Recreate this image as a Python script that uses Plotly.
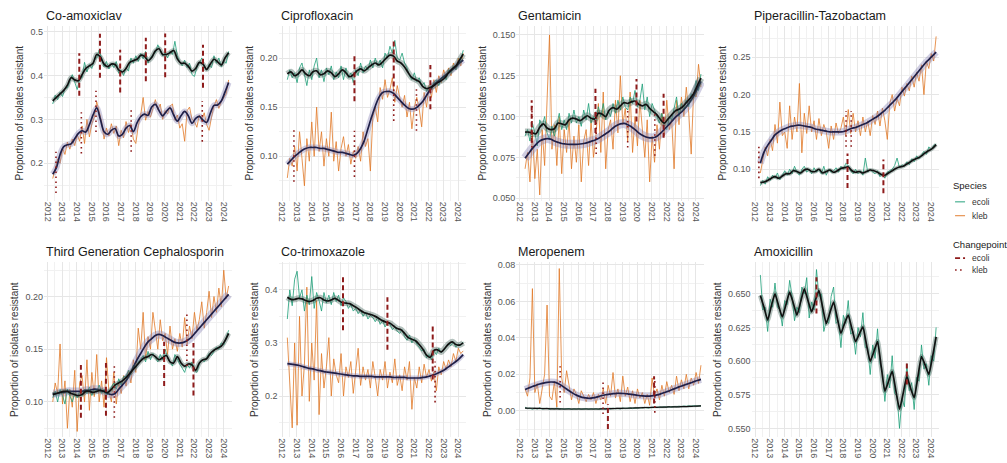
import numpy as np
import plotly.graph_objects as go

# ---------------------------------------------------------------------------
# Time axes (decimal years): observations every two months, fitted trend quarterly
# ---------------------------------------------------------------------------
obs_time = np.round(2012.35 + np.arange(73) / 6, 3)
fit_time = np.round(2012.35 + np.arange(49) / 4, 3)
year_ticks = list(range(2012, 2025))

# ---------------------------------------------------------------------------
# Co-amoxiclav
# ---------------------------------------------------------------------------
coamox_ecoli_obs = [
    .335, .355, .345, .362, .352, .370,
    .372, .388, .402, .385, .368, .392,
    .395, .430, .408, .425, .416, .435,
    .440, .458, .438, .420, .432, .415,
    .428, .418, .432, .405, .412, .400,
    .418, .410, .440, .428, .445, .432,
    .450, .438, .455, .428, .440, .448,
    .452, .470, .458, .445, .452, .440,
    .455, .448, .478, .445, .430, .422,
    .435, .418, .428, .402, .398, .418,
    .428, .440, .420, .412, .425, .418,
    .445, .428, .440, .420, .432, .428,
    .455]
coamox_kleb_obs = [
    .165, .185, .210, .200, .235, .220,
    .248, .232, .255, .240, .265, .250,
    .285, .245, .300, .260, .290, .305,
    .340, .318, .295, .255, .280, .262,
    .290, .268, .285, .240, .275, .258,
    .295, .270, .290, .255, .245, .285,
    .310, .350, .298, .318, .305, .325,
    .345, .322, .335, .300, .320, .312,
    .330, .335, .298, .310, .280, .290,
    .250, .320, .328, .300, .295, .282,
    .310, .298, .315, .288, .275, .305,
    .330, .345, .325, .340, .350, .358,
    .390]
coamox_ecoli_fit = [
    .342, .350, .358, .366, .378, .395, .390, .388,
    .402, .416, .422, .428, .448, .442, .426, .420,
    .426, .425, .413, .408, .416, .430, .434, .437,
    .446, .444, .434, .441, .456, .461, .448, .448,
    .452, .457, .438, .428, .428, .421, .410, .416,
    .430, .426, .414, .426, .437, .431, .424, .440,
    .452]
coamox_kleb_fit = [
    .175, .190, .220, .238, .242, .244, .256, .268,
    .274, .271, .288, .310, .326, .300, .272, .266,
    .275, .279, .262, .266, .280, .286, .272, .292,
    .306, .312, .309, .328, .334, .320, .308, .318,
    .326, .310, .296, .308, .318, .308, .291, .302,
    .307, .298, .293, .314, .332, .333, .342, .362,
    .384]
# changepoints: [year, lower end, upper end]
coamox_cp_ecoli = [[2014.16, .354, .451], [2015.57, .395, .495], [2016.95, .361, .459],
                   [2018.70, .387, .486], [2020.02, .396, .496], [2022.60, .372, .470]]
coamox_cp_kleb = [[2012.57, .132, .226], [2014.30, .222, .316], [2015.30, .271, .365],
                  [2017.70, .226, .324], [2022.55, .249, .342]]

# ---------------------------------------------------------------------------
# Ciprofloxacin
# ---------------------------------------------------------------------------
cipro_ecoli_obs = [
    .178, .188, .180, .185, .175, .190,
    .195, .182, .172, .188, .178, .192,
    .200, .180, .188, .176, .190, .183,
    .192, .178, .186, .180, .192, .178,
    .190, .180, .185, .175, .188, .182,
    .195, .185, .192, .188, .198, .190,
    .200, .192, .198, .190, .205, .200,
    .212, .205, .218, .200, .198, .205,
    .195, .190, .182, .178, .185, .176,
    .180, .172, .175, .166, .170, .168,
    .175, .178, .172, .180, .182, .178,
    .188, .185, .192, .188, .195, .198,
    .208]
cipro_kleb_obs = [
    .078, .098, .090, .110, .085, .125,
    .098, .070, .118, .095, .135, .100,
    .150, .105, .125, .090, .118, .100,
    .145, .095, .115, .085, .108, .120,
    .100, .112, .092, .105, .098, .110,
    .095, .125, .110, .118, .085, .140,
    .150, .135, .170, .158, .178, .160,
    .168, .180, .155, .172, .160, .150,
    .162, .140, .155, .128, .150, .160,
    .148, .130, .165, .150, .172, .160,
    .178, .165, .182, .175, .188, .180,
    .190, .182, .195, .188, .200, .192,
    .205]
cipro_ecoli_fit = [
    .184, .186, .182, .184, .188, .184, .182, .186,
    .187, .183, .184, .187, .185, .181, .184, .188,
    .185, .181, .183, .187, .189, .187, .190, .193,
    .195, .193, .196, .200, .203, .202, .197, .195,
    .191, .185, .180, .178, .176, .171, .169, .170,
    .172, .175, .177, .180, .185, .189, .192, .198,
    .204]
cipro_kleb_fit = [
    .092, .096, .100, .103, .106, .108, .109, .109,
    .109, .108, .108, .107, .106, .105, .104, .104,
    .103, .102, .101, .103, .108, .116, .128, .140,
    .151, .160, .165, .166, .166, .164, .160, .156,
    .152, .149, .148, .149, .152, .156, .162, .168,
    .173, .176, .179, .182, .185, .188, .191, .195,
    .198]
cipro_cp_ecoli = [[2016.93, .156, .205], [2019.61, .171, .220], [2022.11, .148, .193]]
cipro_cp_kleb = [[2012.80, .074, .128], [2016.93, .079, .126], [2019.61, .136, .170],
                 [2021.16, .126, .171]]

# ---------------------------------------------------------------------------
# Gentamicin
# ---------------------------------------------------------------------------
genta_ecoli_obs = [
    .088, .092, .085, .096, .090, .082,
    .098, .094, .100, .090, .086, .094,
    .088, .096, .102, .092, .098, .092,
    .102, .096, .104, .096, .100, .094,
    .104, .098, .108, .096, .100, .096,
    .106, .100, .108, .098, .104, .100,
    .108, .102, .110, .104, .112, .106,
    .104, .112, .108, .116, .106, .110,
    .120, .104, .112, .100, .108, .104,
    .100, .096, .102, .094, .092, .100,
    .098, .106, .112, .100, .108, .104,
    .110, .106, .114, .112, .122, .116,
    .126]
genta_kleb_obs = [
    .068, .078, .060, .090, .062, .080,
    .052, .092, .070, .105, .150, .080,
    .095, .070, .100, .065, .092, .078,
    .098, .068, .088, .072, .095, .060,
    .085, .092, .070, .098, .075, .088,
    .108, .078, .115, .068, .092, .098,
    .080, .110, .090, .125, .095, .105,
    .085, .115, .078, .100, .082, .110,
    .092, .075, .098, .060, .088, .072,
    .095, .080, .102, .088, .110, .092,
    .098, .068, .110, .095, .112, .100,
    .118, .102, .077, .115, .112, .132,
    .118]
genta_ecoli_fit = [
    .0905, .0905, .0900, .0895, .0935, .0955, .0930, .0920,
    .0925, .0960, .0955, .0950, .0980, .0990, .0985, .0975,
    .0990, .1005, .0990, .0985, .1020, .1015, .1000, .1040,
    .1055, .1045, .1065, .1085, .1080, .1090, .1095, .1075,
    .1065, .1075, .1050, .1030, .1010, .0980, .0960, .0985,
    .1010, .1035, .1045, .1060, .1085, .1110, .1140, .1190,
    .1235]
genta_kleb_fit = [
    .0745, .0775, .0805, .0830, .0850, .0860, .0865, .0862,
    .0850, .0842, .0835, .0832, .0830, .0830, .0830, .0832,
    .0835, .0840, .0848, .0855, .0865, .0880, .0895, .0910,
    .0930, .0945, .0955, .0958, .0950, .0938, .0920, .0900,
    .0885, .0875, .0870, .0870, .0880, .0898, .0922, .0945,
    .0970, .0995, .1015, .1035, .1060, .1090, .1125, .1170,
    .1215]
genta_cp_ecoli = [[2012.80, .084, .110], [2017.15, .090, .117], [2019.95, .097, .123],
                  [2021.80, .087, .114]]
genta_cp_kleb = [[2012.82, .081, .107], [2017.20, .077, .104], [2019.35, .081, .104],
                 [2021.20, .076, .102]]

# ---------------------------------------------------------------------------
# Piperacillin-Tazobactam
# ---------------------------------------------------------------------------
piptaz_ecoli_obs = [
    .078, .085, .080, .090, .085, .092,
    .088, .095, .086, .092, .098, .092,
    .100, .094, .104, .096, .092, .100,
    .104, .096, .100, .094, .102, .096,
    .100, .094, .104, .092, .100, .096,
    .098, .102, .096, .104, .100, .108,
    .105, .098, .094, .100, .094, .098,
    .092, .115, .096, .100, .096, .094,
    .098, .090, .094, .088, .096, .098,
    .100, .105, .115, .102, .106, .104,
    .110, .106, .114, .110, .118, .114,
    .120, .124, .120, .130, .126, .132,
    .134]
piptaz_kleb_obs = [
    .095, .115, .130, .118, .140, .125,
    .160, .135, .190, .145, .150, .128,
    .185, .140, .170, .150, .215, .122,
    .175, .148, .185, .150, .165, .140,
    .168, .145, .160, .150, .128, .158,
    .140, .162, .148, .155, .170, .145,
    .180, .148, .175, .150, .165, .145,
    .170, .150, .165, .145, .172, .160,
    .178, .158, .182, .165, .140, .188,
    .200, .178, .195, .185, .210, .198,
    .215, .205, .225, .210, .230, .218,
    .240, .200, .245, .235, .255, .245,
    .278]
piptaz_ecoli_fit = [
    .082, .083, .085, .088, .090, .088, .091, .094,
    .094, .098, .097, .095, .099, .100, .097, .097,
    .100, .095, .097, .099, .096, .098, .101, .102,
    .103, .098, .096, .097, .095, .097, .099, .098,
    .096, .093, .092, .095, .098, .101, .103, .104,
    .107, .110, .113, .115, .118, .122, .125, .128,
    .133]
piptaz_kleb_fit = [
    .108, .123, .132, .139, .146, .150, .153, .155,
    .157, .158, .159, .159, .158, .157, .156, .154,
    .153, .152, .151, .150, .150, .150, .150, .151,
    .153, .155, .156, .158, .160, .162, .165, .168,
    .171, .175, .179, .184, .189, .194, .200, .206,
    .212, .218, .224, .230, .236, .242, .247, .252,
    .257]
piptaz_cp_ecoli = [[2018.30, .075, .121], [2020.75, .068, .113]]
piptaz_cp_kleb = [[2012.25, .088, .130], [2018.20, .130, .178], [2018.55, .130, .178]]

# ---------------------------------------------------------------------------
# Third Generation Cephalosporin
# ---------------------------------------------------------------------------
thirdgen_ecoli_obs = [
    .104, .110, .100, .112, .106, .098,
    .112, .106, .100, .108, .104, .110,
    .106, .112, .108, .114, .106, .112,
    .110, .116, .108, .112, .106, .110,
    .114, .118, .112, .122, .116, .124,
    .124, .130, .126, .135, .132, .138,
    .140, .144, .138, .148, .140, .146,
    .142, .138, .145, .140, .150, .142,
    .138, .134, .145, .140, .136, .132,
    .128, .136, .132, .138, .130, .128,
    .136, .140, .138, .142, .146, .144,
    .148, .152, .150, .156, .154, .160,
    .168]
thirdgen_kleb_obs = [
    .100, .118, .108, .155, .098, .120,
    .075, .112, .095, .130, .072, .118,
    .125, .100, .140, .092, .128, .105,
    .145, .100, .120, .095, .142, .110,
    .100, .128, .098, .118, .108, .125,
    .115, .130, .118, .140, .128, .170,
    .150, .185, .140, .162, .150, .185,
    .168, .150, .178, .158, .165, .145,
    .172, .150, .160, .148, .165, .152,
    .180, .155, .172, .160, .185, .168,
    .178, .195, .170, .185, .205, .180,
    .200, .185, .208, .190, .225, .198,
    .210]
thirdgen_ecoli_fit = [
    .107, .108, .109, .110, .110, .108, .107, .106,
    .107, .110, .110, .109, .110, .111, .110, .109,
    .112, .116, .118, .120, .123, .127, .131, .135,
    .139, .142, .143, .145, .143, .140, .142, .144,
    .138, .137, .143, .137, .134, .136, .135, .130,
    .137, .140, .141, .146, .149, .151, .153, .158,
    .165]
thirdgen_kleb_fit = [
    .108, .108, .109, .109, .110, .110, .110, .110,
    .110, .111, .111, .112, .112, .111, .110, .108,
    .107, .108, .112, .116, .120, .126, .133, .140,
    .146, .152, .157, .160, .163, .164, .163, .161,
    .159, .157, .156, .156, .157, .159, .162, .166,
    .170, .174, .178, .182, .186, .190, .194, .198,
    .202]
thirdgen_cp_ecoli = [[2014.27, .085, .135], [2015.98, .087, .137], [2019.95, .115, .157],
                     [2021.95, .106, .156]]
thirdgen_cp_kleb = [[2016.55, .085, .134], [2021.50, .134, .184]]

# ---------------------------------------------------------------------------
# Co-trimoxazole
# ---------------------------------------------------------------------------
cotrim_ecoli_obs = [
    .345, .400, .370, .420, .435, .385,
    .400, .360, .390, .372, .425, .365,
    .395, .380, .360, .395, .375, .390,
    .372, .395, .378, .390, .370, .385,
    .378, .365, .372, .360, .365, .355,
    .362, .350, .358, .345, .352, .348,
    .340, .348, .335, .342, .330, .338,
    .335, .325, .330, .322, .318, .325,
    .312, .305, .315, .300, .308, .298,
    .292, .285, .288, .272, .278, .268,
    .285, .278, .290, .282, .286, .292,
    .298, .295, .302, .292, .298, .295,
    .302]
cotrim_kleb_obs = [
    .310, .225, .140, .300, .145, .350,
    .200, .260, .405, .190, .300, .230,
    .380, .165, .280, .215, .255, .310,
    .200, .270, .240, .225, .280, .200,
    .255, .235, .265, .205, .245, .290,
    .220, .255, .230, .250, .215, .265,
    .235, .200, .250, .230, .265, .215,
    .245, .225, .270, .220, .240, .210,
    .255, .230, .265, .175, .235, .215,
    .255, .225, .260, .235, .250, .228,
    .245, .210, .255, .240, .265, .250,
    .268, .255, .280, .265, .290, .280,
    .285]
cotrim_ecoli_fit = [
    .386, .382, .382, .384, .383, .380, .378, .380,
    .384, .385, .381, .379, .381, .384, .380, .376,
    .375, .374, .370, .366, .361, .357, .355, .353,
    .350, .346, .342, .339, .337, .332, .327, .325,
    .318, .310, .307, .304, .297, .288, .277, .273,
    .286, .287, .283, .290, .298, .302, .297, .296,
    .300]
cotrim_kleb_fit = [
    .261, .260, .259, .258, .256, .254, .252, .251,
    .249, .248, .246, .245, .244, .243, .242, .241,
    .240, .239, .238, .238, .237, .237, .237, .237,
    .236, .236, .236, .236, .236, .235, .235, .235,
    .235, .234, .234, .234, .234, .235, .236, .238,
    .240, .243, .246, .250, .255, .260, .265, .271,
    .278]
cotrim_cp_ecoli = [[2016.15, .324, .427], [2019.18, .287, .386], [2022.27, .231, .334]]
cotrim_cp_kleb = [[2022.43, .188, .265]]

# ---------------------------------------------------------------------------
# Meropenem
# ---------------------------------------------------------------------------
mero_ecoli_obs = [
    .0020, .0012, .0015, .0008, .0014, .0010,
    .0016, .0009, .0012, .0014, .0008, .0013,
    .0010, .0015, .0008, .0012, .0009, .0011,
    .0013, .0007, .0011, .0009, .0012, .0008,
    .0010, .0012, .0008, .0011, .0009, .0012,
    .0008, .0011, .0013, .0009, .0012, .0010,
    .0014, .0011, .0013, .0010, .0015, .0012,
    .0013, .0016, .0012, .0015, .0014, .0017,
    .0016, .0019, .0015, .0018, .0017, .0020,
    .0018, .0021, .0019, .0022, .0020, .0023,
    .0021, .0024, .0022, .0025, .0023, .0026,
    .0024, .0027, .0025, .0028, .0026, .0029,
    .0028]
mero_kleb_obs = [
    .012, .008, .018, .067, .010, .015,
    .004, .012, .020, .058, .008, .006,
    .016, .002, .078, .018, .010, .022,
    .014, .006, .012, .009, .004, .011,
    .008, .005, .009, .006, .010, .004,
    .009, .006, .012, .004, .014, .008,
    .021, .007, .012, .005, .019, .008,
    .013, .005, .011, .004, .012, .007,
    .010, .004, .009, .003, .018, .008,
    .012, .006, .014, .008, .016, .010,
    .014, .009, .019, .011, .017, .012,
    .020, .012, .018, .014, .021, .015,
    .025]
mero_ecoli_fit = [
    .0015, .0014, .0014, .0013, .0013, .0012, .0012, .0011,
    .0011, .0011, .0010, .0010, .0010, .0010, .0010, .0010,
    .0010, .0010, .0010, .0010, .0010, .0011, .0011, .0012,
    .0012, .0013, .0013, .0014, .0014, .0015, .0016, .0016,
    .0017, .0018, .0018, .0019, .0019, .0020, .0020, .0021,
    .0021, .0022, .0022, .0023, .0023, .0024, .0025, .0026,
    .0027]
mero_kleb_fit = [
    .0117, .0125, .0133, .0140, .0147, .0152, .0156, .0158,
    .0157, .0150, .0138, .0124, .0110, .0097, .0086, .0078,
    .0072, .0069, .0069, .0072, .0078, .0084, .0088, .0091,
    .0094, .0096, .0096, .0095, .0093, .0090, .0087, .0084,
    .0082, .0081, .0081, .0083, .0087, .0093, .0100, .0107,
    .0115, .0123, .0131, .0138, .0145, .0152, .0159, .0166,
    .0172]
mero_cp_ecoli = [[2018.00, -.0100, .0036], [2021.15, .0040, .0190]]
mero_cp_kleb = [[2014.74, .0045, .0244], [2017.67, -.0018, .0175], [2021.20, -.0010, .0180]]

# ---------------------------------------------------------------------------
# Amoxicillin (E. coli only)
# ---------------------------------------------------------------------------
amox_ecoli_obs = [
    .664, .638, .640, .622, .646, .640,
    .658, .640, .638, .626, .645, .642,
    .660, .648, .630, .640, .636, .655,
    .650, .662, .632, .644, .638, .668,
    .648, .650, .622, .630, .628, .648,
    .655, .628, .630, .610, .634, .628,
    .645, .620, .622, .605, .625, .618,
    .636, .610, .610, .590, .612, .602,
    .624, .598, .592, .570, .590, .580,
    .604, .576, .574, .550, .572, .566,
    .598, .578, .584, .564, .588, .585,
    .612, .594, .598, .582, .604, .600,
    .625]
amox_kleb_obs = []
amox_ecoli_fit = [
    .6488, .640, .6304, .641, .650, .641, .6328, .642,
    .6512, .643, .6341, .644, .6537, .645, .6365, .645,
    .6525, .640, .6279, .636, .6439, .632, .6206, .628,
    .6341, .624, .6145, .620, .6255, .612, .5998, .607,
    .6145, .596, .5777, .585, .5924, .578, .5642, .576,
    .5887, .580, .5728, .588, .6034, .597, .5900, .603,
    .618]
amox_kleb_fit = []
amox_cp_ecoli = [[2016.18, .6353, .6623], [2022.35, .5826, .5998]]
amox_cp_kleb = []

# ---------------------------------------------------------------------------
# Panel definitions: title, series, changepoints, y range, tick spacing,
# tick format, halo widths (ecoli, kleb) and spline smoothing of the trend
# ---------------------------------------------------------------------------
panels = [
    ("Co-amoxiclav", coamox_ecoli_obs, coamox_kleb_obs, coamox_ecoli_fit, coamox_kleb_fit,
     coamox_cp_ecoli, coamox_cp_kleb, [0.1142, 0.5135], 0.1, ".1f", (5, 6), 0.9),
    ("Ciprofloxacin", cipro_ecoli_obs, cipro_kleb_obs, cipro_ecoli_fit, cipro_kleb_fit,
     cipro_cp_ecoli, cipro_cp_kleb, [0.0547, 0.2329], 0.05, ".2f", (6, 6), 0.9),
    ("Gentamicin", genta_ecoli_obs, genta_kleb_obs, genta_ecoli_fit, genta_kleb_fit,
     genta_cp_ecoli, genta_cp_kleb, [0.0484, 0.1556], 0.025, ".3f", (7, 9), 0.9),
    ("Piperacillin-Tazobactam", piptaz_ecoli_obs, piptaz_kleb_obs, piptaz_ecoli_fit,
     piptaz_kleb_fit, piptaz_cp_ecoli, piptaz_cp_kleb, [0.0577, 0.2923], 0.05, ".2f",
     (4, 7), 0.9),
    ("Third Generation Cephalosporin", thirdgen_ecoli_obs, thirdgen_kleb_obs,
     thirdgen_ecoli_fit, thirdgen_kleb_fit, thirdgen_cp_ecoli, thirdgen_cp_kleb,
     [0.0665, 0.2326], 0.05, ".2f", (5, 8), 0.9),
    ("Co-trimoxazole", cotrim_ecoli_obs, cotrim_kleb_obs, cotrim_ecoli_fit, cotrim_kleb_fit,
     cotrim_cp_ecoli, cotrim_cp_kleb, [0.1224, 0.4521], 0.1, ".1f", (6, 5), 0.9),
    ("Meropenem", mero_ecoli_obs, mero_kleb_obs, mero_ecoli_fit, mero_kleb_fit,
     mero_cp_ecoli, mero_cp_kleb, [-0.0145, 0.0815], 0.02, ".2f", (2, 7), 0.9),
    ("Amoxicillin", amox_ecoli_obs, amox_kleb_obs, amox_ecoli_fit, amox_kleb_fit,
     amox_cp_ecoli, amox_cp_kleb, [0.5434, 0.6735], 0.025, ".3f", (5, 5), 0.45),
]

# ---------------------------------------------------------------------------
# Styling
# ---------------------------------------------------------------------------
W, H = 1007, 463
FONT = "Liberation Sans, Arial, sans-serif"
ECOLI_OBS = "rgba(27,158,119,0.80)"
KLEB_OBS = "rgba(224,118,34,0.78)"
ECOLI_FIT = "#111111"
KLEB_FIT = "#1f1f48"
ECOLI_BAND = "rgba(60,95,85,0.38)"
KLEB_BAND = "rgba(125,120,175,0.36)"
CP_COLOR = "#8e1b1b"
CP_DASH_ECOLI = "5px,3px"
CP_DASH_KLEB = "1.6px,3.4px"
GRID_MAJOR = "#e6e6e6"
GRID_MINOR = "#f1f1f1"

COL_X = [(43.0, 230.8), (277.8, 465.6), (515.8, 703.6), (751.3, 939.0)]
ROW_Y = [(24.0, 201.0), (263.0, 440.0)]
X_RANGE = [2011.75, 2024.55]

fig = go.Figure()
layout = dict(
    width=W, height=H,
    margin=dict(l=0, r=0, t=0, b=0),
    paper_bgcolor="white", plot_bgcolor="white",
    showlegend=False,
    font=dict(family=FONT, color="#333333"),
)
annotations = []
shapes = []

for i, (title, e_obs, k_obs, e_fit, k_fit, cp_e, cp_k, yr, dt, fmt, band_w, smooth) in \
        enumerate(panels):
    for series, n in ((e_obs, len(obs_time)), (k_obs, len(obs_time)),
                      (e_fit, len(fit_time)), (k_fit, len(fit_time))):
        if series and len(series) != n:
            raise ValueError(f"{title}: series length {len(series)} != {n}")
    r, c = divmod(i, 4)
    ax = "" if i == 0 else str(i + 1)
    xref, yref = "x" + ax, "y" + ax
    x0, x1 = COL_X[c]
    y0, y1 = ROW_Y[r]

    layout["xaxis" + ax] = dict(
        domain=[x0 / W, x1 / W], anchor=yref, range=X_RANGE,
        tickmode="array", tickvals=year_ticks, ticktext=[str(y) for y in year_ticks],
        tickangle=90, tickfont=dict(size=9, color="#555555", family=FONT),
        ticks="", showline=False, zeroline=False,
        showgrid=True, gridcolor=GRID_MAJOR, gridwidth=1,
        minor=dict(tickmode="linear", tick0=2011.5, dtick=1, showgrid=True,
                   gridcolor=GRID_MINOR, gridwidth=0.7),
        fixedrange=True,
    )
    layout["yaxis" + ax] = dict(
        domain=[1 - y1 / H, 1 - y0 / H], anchor=xref, range=yr,
        tickmode="linear", tick0=0, dtick=dt, tickformat=fmt,
        tickfont=dict(size=9, color="#555555", family=FONT),
        ticks="", showline=False, zeroline=False,
        showgrid=True, gridcolor=GRID_MAJOR, gridwidth=1,
        minor=dict(tickmode="linear", tick0=dt / 2, dtick=dt, showgrid=True,
                   gridcolor=GRID_MINOR, gridwidth=0.7),
        title=dict(text="Proportion of isolates resistant",
                   font=dict(size=10, color="#333333", family=FONT), standoff=4),
        fixedrange=True,
    )

    # observed proportions
    if k_obs:
        fig.add_trace(go.Scatter(x=obs_time, y=k_obs, mode="lines", xaxis=xref, yaxis=yref,
                                 line=dict(color=KLEB_OBS, width=1), hoverinfo="skip"))
    if e_obs:
        fig.add_trace(go.Scatter(x=obs_time, y=e_obs, mode="lines", xaxis=xref, yaxis=yref,
                                 line=dict(color=ECOLI_OBS, width=1), hoverinfo="skip"))

    # fitted trends with uncertainty halo
    for fit, band, col, w in ((k_fit, KLEB_BAND, KLEB_FIT, band_w[1]),
                              (e_fit, ECOLI_BAND, ECOLI_FIT, band_w[0])):
        if not fit:
            continue
        fig.add_trace(go.Scatter(x=fit_time, y=fit, mode="lines", xaxis=xref, yaxis=yref,
                                 line=dict(color=band, width=w, shape="spline",
                                           smoothing=smooth),
                                 hoverinfo="skip"))
        fig.add_trace(go.Scatter(x=fit_time, y=fit, mode="lines", xaxis=xref, yaxis=yref,
                                 line=dict(color=col, width=min(1.7, 0.6 * w),
                                           shape="spline", smoothing=smooth),
                                 hoverinfo="skip"))

    # changepoints
    for cps, dash, width in ((cp_e, CP_DASH_ECOLI, 2.0), (cp_k, CP_DASH_KLEB, 1.6)):
        for year, lo, hi in cps:
            fig.add_trace(go.Scatter(x=[year, year], y=[lo, hi], mode="lines",
                                     xaxis=xref, yaxis=yref,
                                     line=dict(color=CP_COLOR, width=width, dash=dash),
                                     hoverinfo="skip"))

    # panel title
    annotations.append(dict(
        text=title, x=x0 / W, y=1 - (y0 - 10) / H, xref="paper", yref="paper",
        xanchor="left", yanchor="middle", showarrow=False,
        font=dict(size=12.5, color="#1a1a1a", family=FONT),
    ))

# ---------------------------------------------------------------------------
# Legends (Species, Changepoint)
# ---------------------------------------------------------------------------
LX = 952


def legend_title(text, ypx):
    annotations.append(dict(text=text, x=LX / W, y=1 - ypx / H, xref="paper", yref="paper",
                            xanchor="left", yanchor="middle", showarrow=False,
                            borderpad=0,
                            font=dict(size=9.5, color="#1a1a1a", family=FONT)))


def legend_item(text, ypx, color, width, dash):
    shapes.append(dict(type="line", xref="paper", yref="paper",
                       x0=(LX + 3) / W, x1=(LX + 13) / W, y0=1 - ypx / H, y1=1 - ypx / H,
                       line=dict(color=color, width=width, dash=dash)))
    annotations.append(dict(text=text, x=(LX + 18) / W, y=1 - ypx / H, xref="paper",
                            yref="paper", xanchor="left", yanchor="middle", showarrow=False,
                            font=dict(size=8.5, color="#333333", family=FONT)))


legend_title("Species", 185)
legend_item("ecoli", 202, ECOLI_OBS, 1.2, "solid")
legend_item("kleb", 216, KLEB_OBS, 1.2, "solid")
legend_title("Changepoint", 245)
legend_item("ecoli", 259, CP_COLOR, 1.8, CP_DASH_ECOLI)
legend_item("kleb", 271, CP_COLOR, 1.6, CP_DASH_KLEB)

layout["annotations"] = annotations
layout["shapes"] = shapes
fig.update_layout(**layout)
fig.write_html("out.html")
